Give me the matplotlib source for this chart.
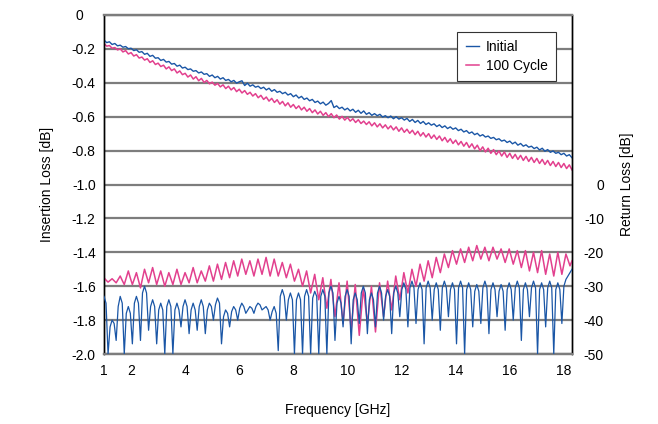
import numpy as np
import matplotlib
matplotlib.use("Agg")
import matplotlib.pyplot as plt

plt.rcParams['font.family'] = ['Liberation Sans', 'DejaVu Sans']
plt.rcParams['axes.unicode_minus'] = False

# ---------------- data ----------------
series_names = ["Initial", "100 Cycle"]

# Insertion loss [dB], read every 0.1 GHz from 1.0 to 18.3 GHz
il_initial = [
    -0.148, -0.163, -0.158, -0.174, -0.168, -0.182, -0.178, -0.190, -0.186, -0.199,
    -0.196, -0.210, -0.205, -0.220, -0.216, -0.232, -0.226, -0.244, -0.238, -0.255,
    -0.252, -0.268, -0.262, -0.278, -0.274, -0.290, -0.286, -0.302, -0.296, -0.313,
    -0.308, -0.322, -0.318, -0.332, -0.328, -0.342, -0.336, -0.350, -0.346, -0.362,
    -0.354, -0.370, -0.362, -0.378, -0.370, -0.386, -0.380, -0.394, -0.386, -0.402,
    -0.394, -0.388, -0.416, -0.402, -0.420, -0.412, -0.426, -0.420, -0.434, -0.426,
    -0.442, -0.432, -0.450, -0.440, -0.456, -0.450, -0.464, -0.456, -0.472, -0.464,
    -0.482, -0.472, -0.490, -0.480, -0.498, -0.490, -0.506, -0.498, -0.516, -0.508,
    -0.524, -0.514, -0.532, -0.522, -0.505, -0.546, -0.536, -0.552, -0.544, -0.560,
    -0.550, -0.566, -0.556, -0.574, -0.562, -0.580, -0.566, -0.586, -0.576, -0.592,
    -0.582, -0.594, -0.586, -0.602, -0.594, -0.606, -0.596, -0.612, -0.600, -0.614,
    -0.606, -0.620, -0.610, -0.628, -0.616, -0.634, -0.622, -0.640, -0.628, -0.646,
    -0.636, -0.650, -0.642, -0.658, -0.648, -0.664, -0.654, -0.670, -0.660, -0.674,
    -0.666, -0.682, -0.674, -0.690, -0.682, -0.698, -0.690, -0.706, -0.698, -0.714,
    -0.706, -0.720, -0.714, -0.728, -0.722, -0.736, -0.730, -0.744, -0.738, -0.752,
    -0.744, -0.760, -0.750, -0.768, -0.758, -0.774, -0.766, -0.780, -0.774, -0.788,
    -0.780, -0.796, -0.786, -0.804, -0.794, -0.810, -0.802, -0.816, -0.810, -0.824,
    -0.816, -0.832, -0.824, -0.842,
]
il_cycle = [
    -0.168, -0.184, -0.180, -0.196, -0.192, -0.206, -0.200, -0.218, -0.210, -0.230,
    -0.222, -0.242, -0.234, -0.254, -0.248, -0.266, -0.258, -0.280, -0.270, -0.292,
    -0.284, -0.304, -0.296, -0.318, -0.306, -0.328, -0.318, -0.342, -0.330, -0.352,
    -0.344, -0.366, -0.354, -0.378, -0.364, -0.388, -0.374, -0.398, -0.386, -0.406,
    -0.396, -0.414, -0.404, -0.424, -0.412, -0.434, -0.420, -0.442, -0.428, -0.452,
    -0.438, -0.460, -0.446, -0.468, -0.456, -0.478, -0.464, -0.488, -0.474, -0.498,
    -0.484, -0.508, -0.492, -0.516, -0.500, -0.526, -0.510, -0.536, -0.518, -0.544,
    -0.528, -0.552, -0.536, -0.560, -0.544, -0.568, -0.552, -0.576, -0.560, -0.584,
    -0.568, -0.592, -0.576, -0.600, -0.582, -0.606, -0.590, -0.614, -0.598, -0.620,
    -0.604, -0.626, -0.612, -0.634, -0.618, -0.640, -0.626, -0.646, -0.630, -0.654,
    -0.636, -0.660, -0.642, -0.666, -0.648, -0.672, -0.654, -0.678, -0.660, -0.686,
    -0.666, -0.692, -0.674, -0.698, -0.680, -0.706, -0.686, -0.714, -0.694, -0.720,
    -0.700, -0.728, -0.708, -0.734, -0.714, -0.742, -0.722, -0.750, -0.730, -0.758,
    -0.738, -0.766, -0.746, -0.774, -0.752, -0.782, -0.760, -0.790, -0.768, -0.800,
    -0.778, -0.808, -0.786, -0.816, -0.794, -0.824, -0.802, -0.832, -0.808, -0.840,
    -0.816, -0.846, -0.822, -0.852, -0.828, -0.858, -0.834, -0.864, -0.840, -0.870,
    -0.846, -0.876, -0.852, -0.882, -0.858, -0.888, -0.864, -0.894, -0.870, -0.900,
    -0.876, -0.906, -0.884, -0.914,
]

# Return loss [dB], read every 0.075 GHz from 1.0 to 18.3 GHz
# (per ripple period: peak, falling flank, dip, rising flank)
rl_initial = [
    -33, -35, -50, -42,   -40, -41, -46, -36,   -33, -35, -50, -38,
    -36, -38, -47, -35,   -33, -35, -46, -32,   -30, -32, -43, -36,
    -34, -36, -47, -37,   -35, -37, -50, -36,   -34, -36, -50, -37,
    -35, -37, -42, -36,   -34, -36, -44, -37,   -35, -37, -43, -36,
    -34, -36, -44, -37,   -35, -36, -40, -35.5, -33.5, -35, -47, -39,
    -37, -38, -42, -37.5, -36, -37, -40, -36.5, -35, -36, -38, -37,
    -36, -36.5, -38, -36, -35, -35.5, -37, -36.5, -36, -37, -40, -37.5,
    -36, -38, -49, -33,   -31, -33, -40, -34,   -32, -34, -50, -34,
    -32, -34, -50, -33,   -31, -33, -50, -33.5, -31.5, -33, -50, -33,
    -31, -33, -50, -32,   -30, -32, -46, -35,   -33, -35, -42, -33,
    -31, -33, -47, -34,   -32, -34, -41, -32,   -30, -32, -44, -34,
    -32, -34, -42, -32,   -30, -32, -40, -33,   -31, -33, -44, -32,
    -30, -32, -39, -31,   -29, -31, -42, -30.5, -28.5, -30.5, -41, -31,
    -29, -31, -47, -30.5, -28.5, -30.5, -40, -31, -29, -31, -43, -30.5,
    -28.5, -30.5, -39, -31, -29, -31, -47, -30.5, -28.5, -30.5, -50, -31,
    -29, -31, -42, -31.5, -29.5, -31.5, -41, -30.5, -28.5, -30.5, -44, -31,
    -29, -31, -39, -31.5, -29.5, -31.5, -43, -31, -29, -31, -40, -30.5,
    -28.5, -30.5, -46, -31, -29, -31, -39, -30.5, -28.5, -30.5, -50, -31,
    -29, -31, -42, -30.5, -28.5, -30.5, -50, -31, -29, -31, -41, -30,
    -28, -27, -26, -25,
]
rl_cycle = [
    -27.5, -28.2, -28.8, -28.3,  -27.8, -28.4, -29.0, -28.0,  -27.0, -28.3, -29.5, -27.5,
    -25.5, -27.6, -29.5, -27.8,  -26.0, -28.2, -30.5, -27.7,  -25.0, -27.0, -29.0, -26.8,
    -24.5, -27.0, -29.5, -27.5,  -25.5, -27.8, -30.0, -28.0,  -26.0, -27.8, -29.5, -27.2,
    -25.0, -27.3, -29.5, -27.8,  -26.0, -27.5, -29.0, -26.8,  -24.5, -26.8, -29.0, -27.2,
    -25.5, -27.0, -28.5, -26.2,  -24.0, -26.2, -28.5, -26.0,  -23.5, -25.8, -28.0, -25.5,
    -23.0, -25.2, -27.5, -25.0,  -22.5, -24.8, -27.0, -24.5,  -22.0, -24.2, -26.5, -24.5,
    -22.5, -24.8, -27.0, -24.5,  -22.0, -24.2, -26.5, -24.0,  -21.5, -24.2, -27.0, -24.5,
    -22.0, -24.5, -27.0, -25.0,  -23.0, -25.2, -27.5, -25.5,  -23.5, -26.0, -28.5, -26.8,
    -25.0, -27.5, -30.0, -27.8,  -25.5, -28.8, -32.0, -29.2,  -26.5, -30.2, -34.0, -30.8,
    -27.5, -32.0, -36.5, -32.2,  -28.0, -33.5, -39.0, -34.0,  -29.0, -35.0, -41.0, -34.8,
    -28.5, -35.8, -43.0, -36.2,  -29.5, -37.0, -44.5, -37.5,  -30.5, -35.8, -41.0, -35.5,
    -30.0, -36.8, -43.5, -36.2,  -29.0, -34.0, -39.0, -33.8,  -28.5, -32.8, -37.0, -32.0,
    -27.0, -30.5, -34.0, -30.0,  -26.0, -29.0, -32.0, -28.5,  -25.0, -27.5, -30.0, -26.8,
    -23.5, -26.0, -28.5, -25.5,  -22.5, -25.0, -27.5, -24.5,  -21.5, -23.8, -26.0, -23.2,
    -20.5, -22.5, -24.5, -22.0,  -19.5, -21.5, -23.5, -21.2,  -19.0, -21.0, -23.0, -20.8,
    -18.5, -20.5, -22.5, -20.2,  -18.0, -20.0, -22.0, -20.2,  -18.5, -20.5, -22.5, -20.5,
    -18.5, -20.2, -22.0, -20.5,  -19.0, -21.0, -23.0, -21.0,  -19.0, -21.2, -23.5, -21.5,
    -19.5, -22.0, -24.5, -22.0,  -19.5, -22.5, -25.5, -22.8,  -20.0, -23.0, -26.0, -22.8,
    -19.5, -23.0, -26.5, -23.5,  -20.5, -23.8, -27.0, -23.5,  -20.0, -23.2, -26.5, -23.5,
    -20.5, -22.2, -24.0, -22.5,
]

freq_il = np.linspace(1.0, 18.3, len(il_initial))
freq_rl_initial = np.linspace(1.0, 18.3, len(rl_initial))
freq_rl_cycle = np.linspace(1.0, 18.3, len(rl_cycle))

x_ticks = [1, 2, 4, 6, 8, 10, 12, 14, 16, 18]
il_ticks = [0, -0.2, -0.4, -0.6, -0.8, -1.0, -1.2, -1.4, -1.6, -1.8, -2.0]
il_tick_labels = ["0   ", "-0.2", "-0.4", "-0.6", "-0.8", "-1.0", "-1.2", "-1.4", "-1.6", "-1.8", "-2.0"]
rl_ticks = [0, -10, -20, -30, -40, -50]
rl_tick_labels = ["0", "-10", "-20", "-30", "-40", "-50"]

BLUE = "#1a56a6"
PINK = "#e2408e"
GRID = "#7d7d7d"

# ---------------- figure ----------------
fig = plt.figure(figsize=(6.58, 4.24), dpi=100)
ax = fig.add_axes([104 / 658, 1 - 354 / 424, 468 / 658, 339 / 424])
ax2 = ax.twinx()

ax.set_xlim(1.0, 18.3)
ax.set_ylim(-2.0, 0.0)
ax2.set_ylim(-50, 50)

for yv in il_ticks:
    ax.axhline(yv, color=GRID, lw=1.6, zorder=0.5)

l1, = ax.plot(freq_il, il_cycle, color=PINK, lw=1.1, zorder=2)
l0, = ax.plot(freq_il, il_initial, color=BLUE, lw=1.0, zorder=3)

ax2.plot(freq_rl_cycle, rl_cycle, color=PINK, lw=1.1, zorder=2)
ax2.plot(freq_rl_initial, rl_initial, color=BLUE, lw=0.9, zorder=3)

ax.set_xticks(x_ticks)
ax.set_xticklabels([str(v) for v in x_ticks])
ax.set_yticks(il_ticks)
ax.set_yticklabels(il_tick_labels)
ax2.set_yticks(rl_ticks)
ax2.set_yticklabels(rl_tick_labels)

ax.tick_params(axis='both', length=0, labelsize=10, colors='black')
ax.tick_params(axis='y', pad=6)
ax.tick_params(axis='x', pad=7)
ax2.tick_params(axis='y', length=0, labelsize=10, pad=23)
for lbl in ax2.get_yticklabels():
    lbl.set_horizontalalignment('right')

for a in (ax, ax2):
    a.spines['top'].set_color(GRID)
    a.spines['top'].set_linewidth(1.6)
    a.spines['bottom'].set_color(GRID)
    a.spines['bottom'].set_linewidth(1.6)
    a.spines['left'].set_color('black')
    a.spines['left'].set_linewidth(1.0)
    a.spines['right'].set_color('black')
    a.spines['right'].set_linewidth(1.0)

fig.text(47 / 658, 1 - 184 / 424, "Insertion Loss [dB]", rotation=90,
         ha='center', va='center', fontsize=10)
fig.text(627 / 658, 1 - 184 / 424, "Return Loss [dB]", rotation=90,
         ha='center', va='center', fontsize=10)
fig.text(338 / 658, 1 - 410 / 424, "Frequency [GHz]", ha='center', va='center', fontsize=10)

leg = ax2.legend([l0, l1], series_names, loc='upper right',
                 bbox_to_anchor=(0.966, 0.951), fontsize=10, frameon=True,
                 fancybox=False, framealpha=1, edgecolor='#333333',
                 handlelength=0.95, handletextpad=0.5,
                 borderpad=0.6, labelspacing=0.35, borderaxespad=0)
leg.get_frame().set_linewidth(0.8)
leg.set_zorder(10)

fig.savefig("out.png", dpi=100)
